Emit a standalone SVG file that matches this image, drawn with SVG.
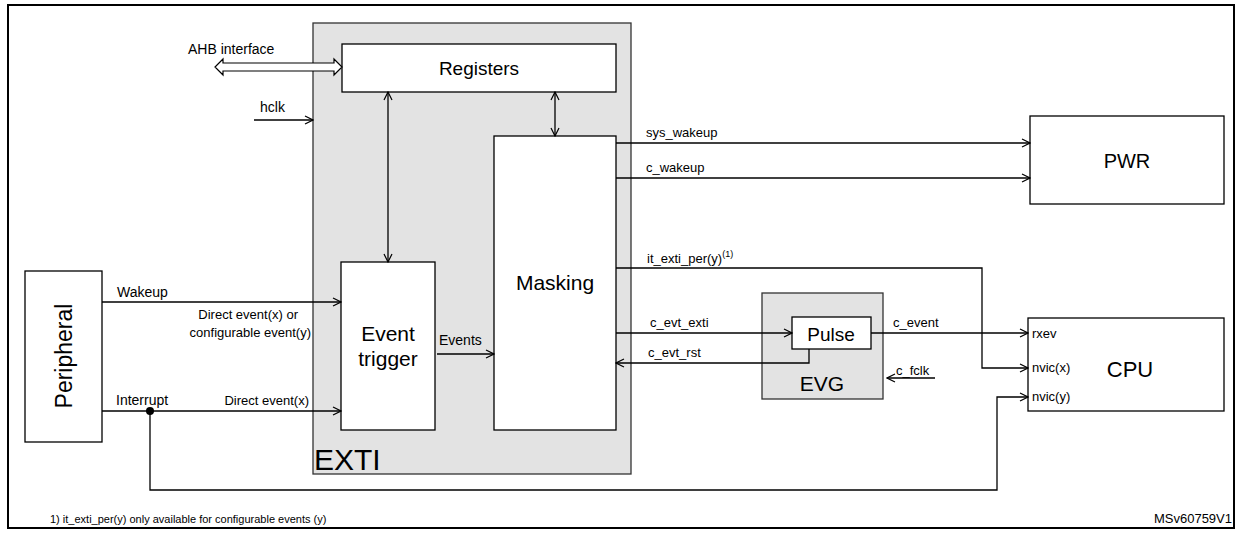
<svg xmlns="http://www.w3.org/2000/svg" width="1240" height="533" viewBox="0 0 1240 533">
<defs>
<marker id="a" markerWidth="10" markerHeight="10" refX="9" refY="5" orient="auto-start-reverse" markerUnits="userSpaceOnUse"><path d="M1,1 L9,5 L1,9" fill="none" stroke="#000" stroke-width="1.2"/></marker>
</defs>
<style>
text{font-family:"Liberation Sans",Arial,sans-serif;fill:#000}
.b{fill:#fff;stroke:#000;stroke-width:1.3}
.g{fill:#e3e3e3;stroke:#333;stroke-width:1.3}
.l{fill:none;stroke:#000;stroke-width:1.3}
.s{font-size:14px}
.t{font-size:13px}
</style>
<rect x="8" y="5" width="1226" height="523" fill="#fff" stroke="#000" stroke-width="2"/>
<g id="exti"><rect class="g" x="313" y="23" width="318" height="451"/><text x="314" y="470" style="font-size:30px">EXTI</text></g>
<g id="registers"><rect class="b" x="342" y="44" width="274" height="48"/><text x="479" y="75" text-anchor="middle" style="font-size:19px">Registers</text></g>
<g id="event-trigger"><rect class="b" x="341" y="262" width="94" height="168"/><text x="388" y="341" text-anchor="middle" style="font-size:21px">Event</text><text x="388" y="366" text-anchor="middle" style="font-size:21px">trigger</text></g>
<g id="masking"><rect class="b" x="494" y="136" width="122" height="294"/><text x="555" y="290" text-anchor="middle" style="font-size:21px">Masking</text></g>
<g id="peripheral"><rect class="b" x="25" y="271" width="77" height="171"/><text text-anchor="middle" style="font-size:23px" transform="translate(72,356) rotate(-90)">Peripheral</text></g>
<g id="pwr"><rect class="b" x="1030" y="116" width="194" height="88"/><text x="1127" y="168" text-anchor="middle" style="font-size:20px">PWR</text></g>
<g id="evg"><rect class="g" x="762" y="293" width="121" height="106"/><text x="822" y="391" text-anchor="middle" style="font-size:21px">EVG</text></g>
<g id="pulse"><rect class="b" x="792" y="317" width="79" height="32"/><text x="831" y="341" text-anchor="middle" style="font-size:19px">Pulse</text></g>
<g id="cpu"><rect class="b" x="1028" y="318" width="196" height="93"/><text x="1130" y="377" text-anchor="middle" style="font-size:22px">CPU</text>
<text class="t" x="1032" y="338">rxev</text><text class="t" x="1032" y="372">nvic(x)</text><text class="t" x="1032" y="401">nvic(y)</text></g>
<g id="connectors">
<path d="M223,59 L215,67 L223,75 L223,71 L334,71 L334,75 L342,67 L334,59 L334,63 L223,63 Z" fill="#fff" stroke="#000" stroke-width="1.2"/>
<path class="l" d="M254,120 H313" marker-end="url(#a)"/>
<path class="l" d="M388,92 V262" marker-start="url(#a)" marker-end="url(#a)"/>
<path class="l" d="M555,92 V136" marker-start="url(#a)" marker-end="url(#a)"/>
<path class="l" d="M102,302 H341" marker-end="url(#a)"/>
<path class="l" d="M102,411 H341" marker-end="url(#a)"/>
<circle cx="150" cy="411" r="4"/>
<path class="l" d="M150,411 V490 H997 V397 H1028" marker-end="url(#a)"/>
<path class="l" d="M437,354 H494" marker-end="url(#a)"/>
<path class="l" d="M616,143 H1030" marker-end="url(#a)"/>
<path class="l" d="M616,178 H1030" marker-end="url(#a)"/>
<path class="l" d="M616,268 H982 V368 H1028" marker-end="url(#a)"/>
<path class="l" d="M616,333 H792" marker-end="url(#a)"/>
<path class="l" d="M809,349 V363 H616" marker-end="url(#a)"/>
<path class="l" d="M871,333 H1028" marker-end="url(#a)"/>
<path class="l" d="M935,378 H887" marker-end="url(#a)"/>
</g>
<g id="labels">
<text class="s" x="188" y="54">AHB interface</text>
<text class="s" x="260" y="112">hclk</text>
<text class="s" x="117" y="297">Wakeup</text>
<text class="t" x="298" y="319" text-anchor="end">Direct event(x) or</text>
<text class="t" x="311" y="337" text-anchor="end">configurable event(y)</text>
<text class="s" x="116" y="405">Interrupt</text>
<text class="t" x="309" y="405" text-anchor="end">Direct event(x)</text>
<text class="s" x="439" y="345">Events</text>
<text class="t" x="646" y="137">sys_wakeup</text>
<text class="t" x="646" y="172">c_wakeup</text>
<text class="t" x="647" y="263">it_exti_per(y)<tspan style="font-size:9px" dy="-6">(1)</tspan></text>
<text class="t" x="650" y="327">c_evt_exti</text>
<text class="t" x="648" y="357">c_evt_rst</text>
<text class="t" x="893" y="327">c_event</text>
<text class="t" x="896" y="375">c_fclk</text>
<text x="50" y="523" style="font-size:11px">1) it_exti_per(y) only available for configurable events (y)</text>
<text x="1232" y="523" text-anchor="end" style="font-size:13px">MSv60759V1</text>
</g>
</svg>
